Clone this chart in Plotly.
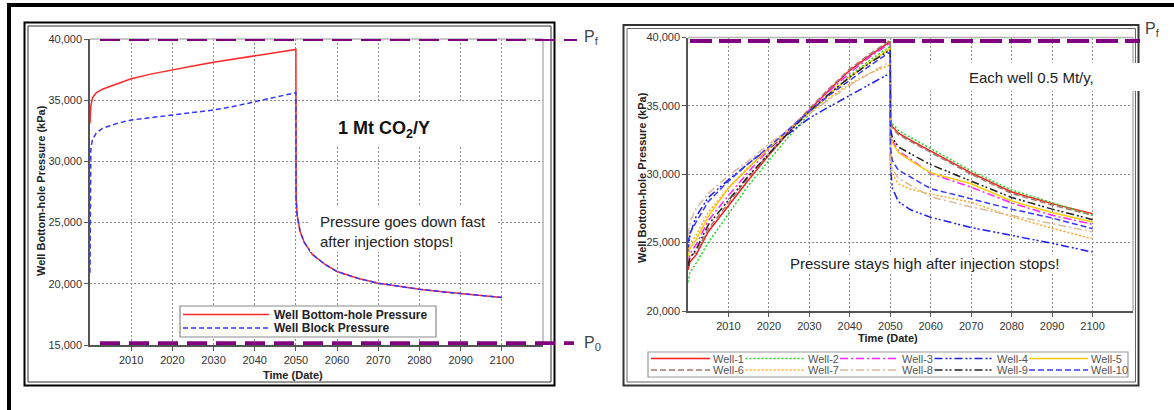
import plotly.graph_objects as go

W, H = 1174, 410

# ---------------- left chart: one well, 1 Mt CO2 per year ----------------
t_single = [2000.0, 2000.2, 2000.6, 2001.5, 2003, 2005, 2007, 2010, 2015, 2020, 2025,
            2030, 2035, 2040, 2045, 2050,
            2050.05, 2050.3, 2051, 2052, 2054, 2057, 2060, 2065, 2070, 2075, 2080,
            2085, 2090, 2095, 2100]
bhp_single = [33100, 34500, 35200, 35600, 35900, 36150, 36400, 36750, 37150, 37500, 37800,
              38100, 38350, 38650, 38900, 39150,
              27000, 25600, 24300, 23400, 22400, 21600, 21000, 20450, 20050, 19780, 19550,
              19370, 19220, 19050, 18890]
block_single = [20900, 31000, 31800, 32300, 32700, 32950, 33150, 33380, 33600, 33800, 34000,
                34200, 34500, 34880, 35250, 35620,
                27000, 25600, 24300, 23400, 22400, 21600, 21000, 20450, 20050, 19780, 19550,
                19370, 19220, 19050, 18890]
single_names = ["Well Bottom-hole Pressure", "Well Block Pressure"]

# ---------------- right chart: ten wells, 0.5 Mt per year each ----------------
t_wells = [2000.0, 2000.5, 2002, 2005, 2010, 2015, 2020, 2025, 2030, 2035, 2040, 2045, 2050,
           2050.05, 2050.5, 2052, 2055, 2060, 2070, 2080, 2090, 2100]
well_1 = [23000, 23600, 24100, 25800, 27700, 29600, 31400, 33100, 34700, 36200, 37600, 38700, 39700,
          33900, 33500, 33000, 32500, 31700, 30100, 28700, 27850, 27120]
well_2 = [22100, 22800, 23500, 25000, 27100, 29200, 31000, 32800, 34400, 35900, 37200, 38350, 39350,
          34100, 33700, 33200, 32700, 31900, 30250, 28850, 27900, 27000]
well_3 = [23500, 24200, 24850, 26600, 28450, 30200, 31800, 33300, 34700, 36100, 37400, 38600, 39600,
          33200, 32500, 31700, 31100, 30050, 29050, 27900, 27000, 26340]
well_4 = [24300, 25600, 26900, 28300, 29600, 30800, 31900, 33000, 34100, 34950, 35750, 36600, 37400,
          30500, 29000, 28000, 27400, 26850, 26100, 25530, 24950, 24310]
well_5 = [24000, 24600, 25200, 26900, 29000, 30500, 31900, 33300, 34600, 35900, 37100, 38200, 39200,
          33000, 32300, 31600, 31000, 30100, 29300, 28050, 27200, 26510]
well_6 = [23500, 24000, 24300, 26000, 27900, 29800, 31500, 33200, 34800, 36300, 37700, 38800, 39800,
          33800, 33400, 32900, 32400, 31600, 30000, 28600, 27750, 27000]
well_7 = [24500, 24900, 25550, 27200, 29000, 30500, 31900, 33200, 34500, 35600, 36600, 37400, 38000,
          31000, 30000, 29300, 28900, 28550, 27950, 26900, 26050, 25290]
well_8 = [25500, 26500, 27500, 28600, 29900, 31000, 32200, 33300, 34400, 35500, 36500, 37400, 38250,
          31300, 30400, 29700, 29200, 28350, 27600, 27000, 26400, 25780]
well_9 = [23300, 23900, 24500, 26300, 28100, 29900, 31500, 33100, 34600, 35900, 37100, 38150, 39100,
          33300, 32700, 32000, 31500, 30700, 29500, 28300, 27450, 26680]
well_10 = [25000, 25700, 26500, 28000, 29500, 30800, 32000, 33300, 34600, 35800, 36900, 37950, 38950,
           32000, 31000, 30300, 29800, 28950, 28200, 27450, 26800, 26020]
well_names = ["Well-1", "Well-2", "Well-3", "Well-4", "Well-5",
              "Well-6", "Well-7", "Well-8", "Well-9", "Well-10"]

# ---------------- axes ----------------
year_ticks = [2010, 2020, 2030, 2040, 2050, 2060, 2070, 2080, 2090, 2100]
left_p_ticks = [15000, 20000, 25000, 30000, 35000, 40000]
right_p_ticks = [20000, 25000, 30000, 35000, 40000]
p_frac_left = 40000      # fracture pressure
p_init_left = 15150      # initial pressure
p_frac_right = 39750

# ---------------- styles ----------------
single_styles = [dict(color="#ff2a2a", width=1.5, dash="solid"),
                 dict(color="#3535ff", width=1.5, dash="5px,3px")]
well_styles = [
    dict(color="#ff1a1a", width=1.5, dash="solid"),
    dict(color="#22d422", width=1.5, dash="2px,2px"),
    dict(color="#ff22ff", width=1.5, dash="8px,3px,2px,3px"),
    dict(color="#1c1cf0", width=1.5, dash="8px,3px,2px,2px,2px,3px"),
    dict(color="#ffcc00", width=1.5, dash="solid"),
    dict(color="#a27a6e", width=1.5, dash="6px,3px"),
    dict(color="#ffa726", width=1.5, dash="2px,2px"),
    dict(color="#d9bb9b", width=1.5, dash="8px,3px,2px,3px"),
    dict(color="#222222", width=1.5, dash="8px,3px,2px,2px,2px,3px"),
    dict(color="#3a3aff", width=1.5, dash="6px,3px"),
]
wells = [well_1, well_2, well_3, well_4, well_5, well_6, well_7, well_8, well_9, well_10]

FONT = "Liberation Sans, Arial, sans-serif"


def px(x):
    return x / W


def py(y):
    return 1 - y / H


fig = go.Figure()

for vals, name, st in zip([bhp_single, block_single], single_names, single_styles):
    fig.add_trace(go.Scatter(x=t_single, y=vals, name=name, mode="lines",
                             line=st, xaxis="x", yaxis="y", showlegend=False))

for vals, name, st in zip(wells, well_names, well_styles):
    fig.add_trace(go.Scatter(x=t_wells, y=vals, name=name, mode="lines",
                             line=st, xaxis="x2", yaxis="y2", showlegend=False))

axis_common = dict(
    showgrid=True, gridcolor="#8c8c8c", griddash="2px,2px", gridwidth=1,
    showline=True, linecolor="#555555", linewidth=1.5,
    ticks="outside", ticklen=4, tickcolor="#555555", tickwidth=1,
    tickfont=dict(size=11, color="#333333", family=FONT),
    zeroline=False, fixedrange=True, automargin=False,
)

fig.update_layout(
    width=W, height=H,
    margin=dict(l=0, r=0, t=0, b=0, autoexpand=False),
    paper_bgcolor="white", plot_bgcolor="white",
    showlegend=False,
    font=dict(family=FONT, color="#222222"),
    xaxis=dict(domain=[px(90), px(543)], range=[2000, 2110], tickmode="array",
               tickvals=year_ticks, anchor="y", **axis_common),
    yaxis=dict(domain=[py(345), py(39)], range=[15000, 40000], tickmode="array",
               tickvals=left_p_ticks, tickformat=",d", anchor="x", **axis_common),
    xaxis2=dict(domain=[px(688), px(1133)], range=[2000, 2110], tickmode="array",
                tickvals=year_ticks, anchor="y2", **axis_common),
    yaxis2=dict(domain=[py(311), py(37.5)], range=[20000, 40000], tickmode="array",
                tickvals=right_p_ticks, tickformat=",d", anchor="x2", **axis_common),
)

shapes = []


def rect(x0, y0, x1, y1, color="#000", width=1, fill=None):
    shapes.append(dict(type="rect", xref="paper", yref="paper",
                       x0=px(x0), x1=px(x1), y0=py(y1), y1=py(y0),
                       line=dict(color=color, width=width),
                       fillcolor=fill, layer="above"))


def seg(x0, y0, x1, y1, color, width, dash="solid"):
    shapes.append(dict(type="line", xref="paper", yref="paper",
                       x0=px(x0), x1=px(x1), y0=py(y0), y1=py(y1),
                       line=dict(color=color, width=width, dash=dash), layer="above"))


# outer page frame
seg(7, 5, W, 5, "#000000", 4)
seg(9, 3, 9, H, "#000000", 4)

# panel frames (double rule)
rect(24.5, 22.5, 554.5, 385.5, "#000000", 2)
rect(28, 26, 551, 382, "#333333", 1)
rect(623.5, 25, 1138.5, 385.5, "#333333", 2)
rect(627, 28.5, 1135.5, 382, "#666666", 1)

# light top/right edges of the plotting areas
seg(90, 39, 543, 39, "#b4b4b4", 1.5)
seg(543, 39, 543, 345, "#b4b4b4", 1.5)
seg(688, 37.5, 1133, 37.5, "#b4b4b4", 1.5)
seg(1133, 37.5, 1133, 311, "#b4b4b4", 1.5)

# white boxes behind the notes
rect(322, 101, 476, 145, "white", 0, "white")
rect(310, 206, 497, 252, "white", 0, "white")
rect(905, 63, 1143, 91, "white", 0, "white")
rect(784, 255, 1074, 272, "white", 0, "white")

# pressure limits
PURPLE = "#800080"
shapes.append(dict(type="line", xref="paper", yref="y", x0=px(100), x1=px(577),
                   y0=p_frac_left, y1=p_frac_left,
                   line=dict(color=PURPLE, width=4, dash="20px,9px"), layer="above"))
shapes.append(dict(type="line", xref="paper", yref="y", x0=px(100), x1=px(574),
                   y0=p_init_left, y1=p_init_left,
                   line=dict(color=PURPLE, width=4, dash="20px,9px"), layer="above"))
shapes.append(dict(type="line", xref="paper", yref="y2", x0=px(690), x1=px(1140),
                   y0=p_frac_right, y1=p_frac_right,
                   line=dict(color=PURPLE, width=4, dash="22px,7px"), layer="above"))

# legend of the left chart
rect(180, 306, 436, 337, "#8a8a8a", 1.2, "white")
for i, st in enumerate(single_styles):
    yy = 314.5 + i * 13.5
    seg(183, yy, 269, yy, st["color"], st["width"], st["dash"])

# legend of the right chart
rect(648, 352, 1128, 377, "#9a9a9a", 1.2, "white")
for i, st in enumerate(well_styles):
    col, row = i % 5, i // 5
    x0 = 651 + col * 94.5
    yy = 358.5 + row * 11.5
    seg(x0, yy, x0 + 59, yy, st["color"], st["width"], st["dash"])

annotations = []


def ann(text, x, y, size, color="#222222", xanchor="center", yanchor="middle",
        angle=0, align="center"):
    annotations.append(dict(text=text, x=px(x), y=py(y), xref="paper", yref="paper",
                            xanchor=xanchor, yanchor=yanchor, showarrow=False,
                            textangle=angle, align=align,
                            font=dict(size=size, color=color, family=FONT)))


# axis titles
ann("<b>Time (Date)</b>", 293, 375, 11, "#222222")
ann("<b>Time (Date)</b>", 888, 338, 11, "#222222")
ann("<b>Well Bottom-hole Pressure (kPa)</b>", 41, 191, 11, "#222222", angle=-90)
ann("<b>Well Bottom-hole Pressure (kPa)</b>", 642, 178, 11, "#222222", angle=-90)

# notes
ann("<b>1 Mt CO<sub>2</sub>/Y</b>", 384, 129, 18, "#111111")
ann("Pressure goes down fast<br>after injection stops!", 318, 231.5, 15, "#222222",
    xanchor="left", align="left")
ann("Each well 0.5 Mt/y,", 967, 78, 15, "#222222", xanchor="left")
ann("Pressure stays high after injection stops!", 788, 263, 15, "#222222", xanchor="left")

# limit labels
ann("P<sub>f</sub>", 582, 38, 16, "#444444", xanchor="left")
ann("P<sub>0</sub>", 582, 343, 16, "#444444", xanchor="left")
ann("P<sub>f</sub>", 1143, 30, 16, "#444444", xanchor="left")

# legend texts
for i, name in enumerate(single_names):
    ann("<b>" + name + "</b>", 272, 314.5 + i * 13.5, 12, "#222222", xanchor="left")
for i, name in enumerate(well_names):
    col, row = i % 5, i // 5
    ann(name, 651 + col * 94.5 + 60, 358.5 + row * 11.5, 11, "#555555", xanchor="left")

fig.update_layout(shapes=shapes, annotations=annotations)
fig.write_html("out.html")
